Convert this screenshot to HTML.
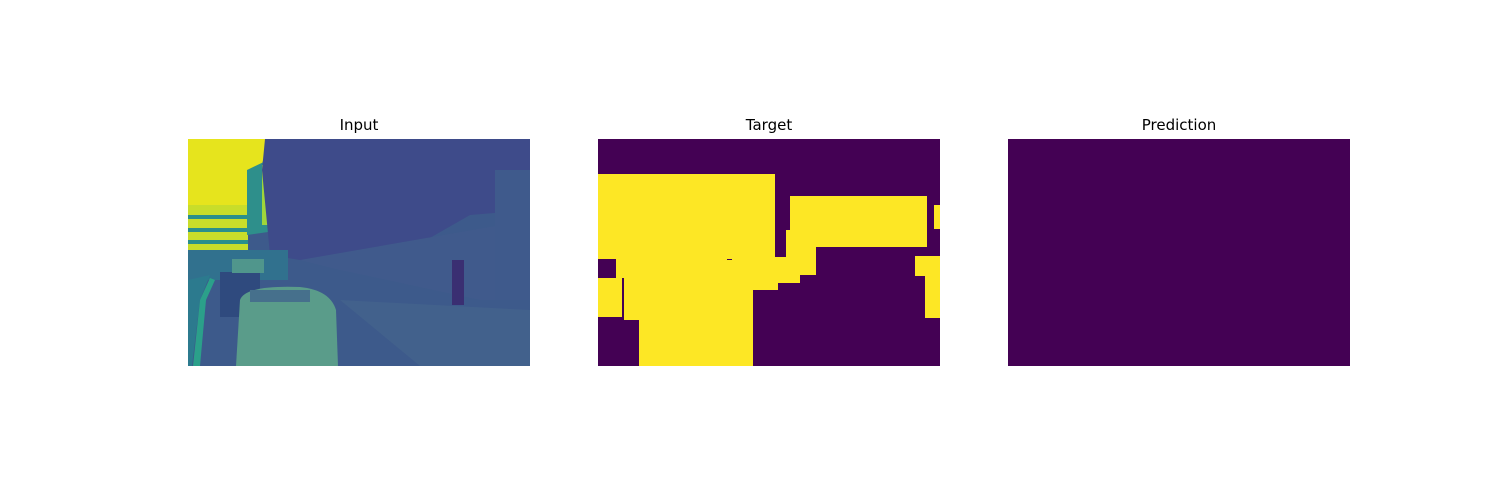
<!DOCTYPE html>
<html><head><meta charset="utf-8"><style>
body{margin:0;background:#fff;width:1500px;height:500px;overflow:hidden;font-family:"DejaVu Sans","Liberation Sans",sans-serif}
svg{display:block}
</style></head><body>
<svg width="1500" height="500">
<text x="359" y="130" font-size="15" text-anchor="middle">Input</text>
<text x="769" y="130" font-size="15" text-anchor="middle">Target</text>
<text x="1179" y="130" font-size="15" text-anchor="middle">Prediction</text>
<g>
<rect x="188" y="139" width="342" height="227" fill="#3d5a8b"/>
<polygon points="188,139 268,139 262,165 250,185 245,250 188,252" fill="#e6e41d"/>
<rect x="188" y="205" width="60" height="45" fill="#c8dd2a"/>
<rect x="188" y="215" width="60" height="4" fill="#2a8f8c"/>
<rect x="188" y="228" width="60" height="4" fill="#2a8f8c"/>
<rect x="188" y="240" width="60" height="4" fill="#2a8f8c"/>
<polygon points="247,170 272,158 282,165 282,230 247,235" fill="#2e8f8b"/>
<rect x="262" y="165" width="12" height="60" fill="#9fd63a"/>
<polygon points="265,139 530,139 530,210 470,215 400,255 330,265 270,255 262,170" fill="#3e4b8a"/>
<rect x="188" y="250" width="100" height="30" fill="#31718e"/>
<polygon points="300,260 530,220 530,300 480,300 340,270" fill="#405a8c"/>
<polygon points="188,280 210,275 200,300 192,366 188,366" fill="#2c7a8e"/>
<polygon points="193,366 200,300 210,278 215,280 206,300 200,366" fill="#2ba08a"/>
<polygon points="340,300 530,310 530,366 420,366" fill="#42618c"/>
<rect x="220" y="272" width="40" height="45" fill="#2f4a7e"/>
<rect x="232" y="259" width="32" height="14" fill="#50968c"/>
<path d="M240,300 Q245,285 300,287 Q330,290 336,310 L338,366 L236,366 Z" fill="#5a9c8a"/>
<rect x="250" y="290" width="60" height="12" fill="#46708c"/>
<rect x="452" y="260" width="12" height="45" fill="#3a2f72"/>
<rect x="495" y="170" width="35" height="130" fill="#3f5a8c"/>
</g>
<g>
<rect x="598" y="139" width="342" height="227" fill="#440154"/>
<g fill="#fde725">
<rect x="598" y="174" width="177" height="85"/>
<rect x="790" y="196" width="137" height="51"/>
<rect x="786" y="230" width="30" height="29"/>
<rect x="616" y="257" width="200" height="18"/>
<rect x="598" y="275" width="202" height="8"/>
<rect x="598" y="283" width="180" height="7"/>
<rect x="598" y="290" width="155" height="27"/>
<rect x="624" y="317" width="129" height="3"/>
<rect x="639" y="320" width="114" height="46"/>
<rect x="934" y="205" width="6" height="24"/>
<rect x="915" y="256" width="25" height="20"/>
<rect x="925" y="276" width="15" height="42"/>
</g>
<rect x="598" y="259" width="18" height="16" fill="#440154"/>
<rect x="622" y="278" width="2" height="39" fill="#440154"/>
<rect x="598" y="275" width="18" height="3" fill="#440154"/>
<rect x="727" y="259" width="5" height="1" fill="#440154"/>
</g>
<rect x="1008" y="139" width="342" height="227" fill="#440154"/>
</svg>
</body></html>
